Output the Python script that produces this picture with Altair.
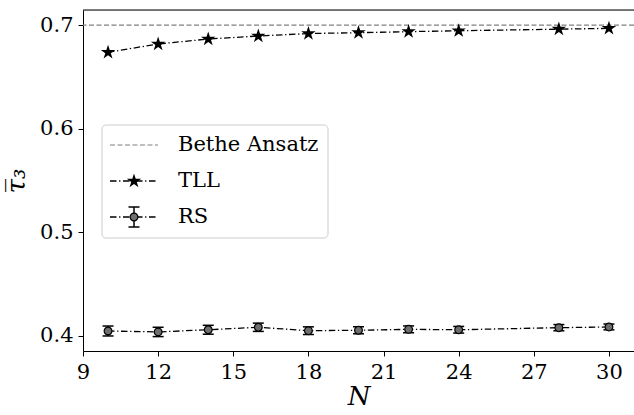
import altair as alt
import pandas as pd

# ---- data ----
N_values = [10, 12, 14, 16, 18, 20, 22, 24, 28, 30]
tll_values = [0.6737, 0.6817, 0.6865, 0.6894, 0.6918, 0.6926, 0.6936, 0.6945, 0.6960, 0.6968]
rs_values = [0.4048, 0.4039, 0.4060, 0.4084, 0.4051, 0.4055, 0.4064, 0.4060, 0.4080, 0.4087]
rs_errors = [0.0048, 0.0045, 0.0043, 0.0040, 0.0037, 0.0034, 0.0033, 0.0032, 0.0030, 0.0028]
bethe_value = 0.7
x_ticks = [9, 12, 15, 18, 21, 24, 27, 30]
y_ticks = [0.4, 0.5, 0.6, 0.7]
legend_labels = ["Bethe Ansatz", "TLL", "RS"]

FONT = "DejaVu Serif"
W, H = 551, 341
DASHDOT = [6.5, 2.6, 1.3, 2.6]
STAR = ("M0,-1L0.2245,-0.309L0.9511,-0.309L0.3633,0.118L0.5878,0.809L0,0.382"
        "L-0.5878,0.809L-0.3633,0.118L-0.9511,-0.309L-0.2245,-0.309Z")
STAR_SIZE = 230

tll_df = pd.DataFrame({"N": N_values, "v": tll_values})
rs_df = pd.DataFrame({"N": N_values, "v": rs_values,
                      "lo": [v - e for v, e in zip(rs_values, rs_errors)],
                      "hi": [v + e for v, e in zip(rs_values, rs_errors)]})
bethe_df = pd.DataFrame({"v": [bethe_value]})
one = pd.DataFrame({"a": [0]})

xs = alt.Scale(domain=[9, 31], nice=False, zero=False)
ys = alt.Scale(domain=[0.3855, 0.7145], nice=False, zero=False)

x_axis = alt.Axis(values=x_ticks, title="N", grid=False, labelFont=FONT, labelFontSize=21,
                  titleFont=FONT, titleFontSize=26, titleFontStyle="italic", titleFontWeight="normal",
                  tickSize=5, tickColor="black", domainColor="black", labelColor="black",
                  titleColor="black", labelPadding=5, titlePadding=1, labelFlush=False)
y_axis = alt.Axis(values=y_ticks, format=".1f", title="τ̅₃", grid=False, labelFont=FONT,
                  labelFontSize=21, titleFont=FONT, titleFontSize=26, titleFontWeight="normal",
                  titleFontStyle="italic",
                  tickSize=5, tickColor="black", domainColor="black", labelColor="black",
                  titleColor="black", labelPadding=5, titlePadding=10)

bethe = alt.Chart(bethe_df).mark_rule(color="#808080", strokeDash=[5, 2.5], strokeWidth=1.2).encode(
    y=alt.Y("v:Q", scale=ys, axis=y_axis))

tll_line = alt.Chart(tll_df).mark_line(color="black", strokeDash=DASHDOT, strokeWidth=1.3).encode(
    x=alt.X("N:Q", scale=xs, axis=x_axis), y=alt.Y("v:Q", scale=ys))
tll_pts = alt.Chart(tll_df).mark_point(shape=STAR, filled=True, color="black", size=STAR_SIZE, opacity=1).encode(
    x=alt.X("N:Q", scale=xs), y=alt.Y("v:Q", scale=ys))

rs_line = alt.Chart(rs_df).mark_line(color="black", strokeDash=DASHDOT, strokeWidth=1.3).encode(
    x=alt.X("N:Q", scale=xs), y=alt.Y("v:Q", scale=ys))
rs_bar = alt.Chart(rs_df).mark_rule(color="black", strokeWidth=1.5).encode(
    x=alt.X("N:Q", scale=xs), y=alt.Y("lo:Q", scale=ys), y2="hi:Q")
rs_cap_lo = alt.Chart(rs_df).mark_tick(color="black", thickness=1.5, size=11, orient="horizontal", opacity=1).encode(
    x=alt.X("N:Q", scale=xs), y=alt.Y("lo:Q", scale=ys))
rs_cap_hi = alt.Chart(rs_df).mark_tick(color="black", thickness=1.5, size=11, orient="horizontal", opacity=1).encode(
    x=alt.X("N:Q", scale=xs), y=alt.Y("hi:Q", scale=ys))
rs_pts = alt.Chart(rs_df).mark_point(shape="circle", filled=True, fill="#6e6e6e", stroke="black",
                                     strokeWidth=1.2, size=60, opacity=1).encode(
    x=alt.X("N:Q", scale=xs), y=alt.Y("v:Q", scale=ys))

top_spine = alt.Chart(one).mark_rule(color="black", strokeWidth=1).encode(
    x=alt.value(0), x2=alt.value(W), y=alt.value(0))

# ---- legend (drawn in pixel space inside the plot) ----
lx0, lx1, lxm, ltx = 27, 75, 51, 95
rows = [135, 171, 207]
leg_box = alt.Chart(one).mark_rect(fill="white", fillOpacity=0.85, stroke="#cccccc", strokeWidth=1,
                                   cornerRadius=4).encode(
    x=alt.value(19), x2=alt.value(245), y=alt.value(115), y2=alt.value(228))
leg_l1 = alt.Chart(one).mark_rule(color="#808080", strokeDash=[5, 2.5], strokeWidth=1.2).encode(
    x=alt.value(lx0), x2=alt.value(lx1), y=alt.value(rows[0]))
leg_l2 = alt.Chart(one).mark_rule(color="black", strokeDash=DASHDOT, strokeWidth=1.3).encode(
    x=alt.value(lx0), x2=alt.value(lx1), y=alt.value(rows[1]))
leg_s2 = alt.Chart(one).mark_point(shape=STAR, filled=True, color="black", size=STAR_SIZE, opacity=1).encode(
    x=alt.value(lxm), y=alt.value(rows[1]))
leg_l3 = alt.Chart(one).mark_rule(color="black", strokeDash=DASHDOT, strokeWidth=1.3).encode(
    x=alt.value(lx0), x2=alt.value(lx1), y=alt.value(rows[2]))
leg_e3 = alt.Chart(one).mark_rule(color="black", strokeWidth=1.5).encode(
    x=alt.value(lxm), y=alt.value(rows[2] - 10), y2=alt.value(rows[2] + 10))
leg_c3a = alt.Chart(one).mark_rule(color="black", strokeWidth=1.5).encode(
    x=alt.value(lxm - 5.5), x2=alt.value(lxm + 5.5), y=alt.value(rows[2] - 10))
leg_c3b = alt.Chart(one).mark_rule(color="black", strokeWidth=1.5).encode(
    x=alt.value(lxm - 5.5), x2=alt.value(lxm + 5.5), y=alt.value(rows[2] + 10))
leg_p3 = alt.Chart(one).mark_point(shape="circle", filled=True, fill="#6e6e6e", stroke="black",
                                   strokeWidth=1.2, size=60, opacity=1).encode(
    x=alt.value(lxm), y=alt.value(rows[2]))
leg_texts = [alt.Chart(pd.DataFrame({"t": [lab]})).mark_text(
    font=FONT, fontSize=21, align="left", baseline="middle", color="black").encode(
    x=alt.value(ltx), y=alt.value(r), text="t:N") for lab, r in zip(legend_labels, rows)]

chart = alt.layer(
    bethe, tll_line, tll_pts, rs_line, rs_bar, rs_cap_lo, rs_cap_hi, rs_pts, top_spine,
    leg_box, leg_l1, leg_l2, leg_s2, leg_l3, leg_e3, leg_c3a, leg_c3b, leg_p3, *leg_texts
).properties(
    width=W, height=H,
    autosize=alt.AutoSizeParams(type="none"),
    padding={"left": 83, "top": 10, "right": 0, "bottom": 64},
).configure_view(stroke=None).configure(background="white")

chart.save("out.html", embed_options={"renderer": "svg", "actions": False})
